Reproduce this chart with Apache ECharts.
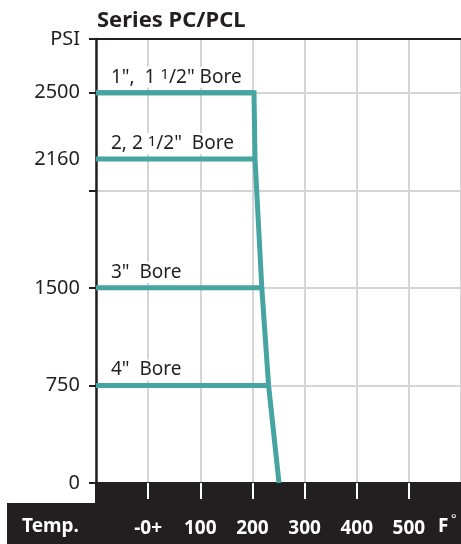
<!DOCTYPE html>
<html>
<head>
<meta charset="utf-8">
<script src="https://cdn.jsdelivr.net/npm/echarts@6/dist/echarts.min.js"></script>
<style>
  html, body { margin: 0; padding: 0; background: #fff; }
  #chart { width: 461px; height: 544px; }
</style>
</head>
<body>
<div id="chart"></div>
<script>
// bore ratings (psi) and the temperature where each flat line meets the derating curve
const boreLabels = ['1",  1 {s|1}/2" Bore', '2, 2 {s|1}/2"  Bore', '3"  Bore', '4"  Bore']
const borePsi = [2500, 2160, 1500, 750]
const boreTemp = [203, 205, 218, 231]

// derating curve
const curvePsi = [2500, 2160, 1500, 750, 0]
const curveTemp = [203, 205, 218, 231, 251]

// psi axis labels and ticks (axis is not linear: 0-1500 in 750 steps, then 500 steps)
const psiLabels = [0, 750, 1500, 2160, 2500]
const psiTicks = [0, 750, 1500, 2000, 2500]
const psiBreaks = [0, 1500, 2500]
const psiBreakUnits = [0, 2, 4]
const psiTop = 2775

// temperature axis (F)
const tempTicks = [0, 100, 200, 300, 400, 500]

const teal = '#46a4a1'
const dark = '#231f20'
const grid = '#d5d5d7'
const font = '"Noto Sans", "Open Sans", sans-serif'

function psiToUnit(p) {
  for (let i = 1; i < psiBreaks.length; i++) {
    if (p <= psiBreaks[i] || i === psiBreaks.length - 1) {
      const a = psiBreaks[i - 1], b = psiBreaks[i]
      const ua = psiBreakUnits[i - 1], ub = psiBreakUnits[i]
      return ua + (p - a) / (b - a) * (ub - ua)
    }
  }
}

const yMax = psiToUnit(psiTop)
const labelUnits = psiLabels.map(psiToUnit).concat([yMax])
const tickUnits = psiTicks.map(psiToUnit).concat([yMax])

function unitLabel(v) {
  if (Math.abs(v - yMax) < 0.01) return 'PSI'
  for (let i = 0; i < psiLabels.length; i++) {
    if (Math.abs(psiToUnit(psiLabels[i]) - v) < 0.01) return String(psiLabels[i])
  }
  return ''
}

const chart = echarts.init(document.getElementById('chart'))

const series = []

// curve, starting with the top flat segment so the corner joins cleanly
const topLine = [[-100, psiToUnit(borePsi[0])]].concat(curvePsi.map((p, i) => [curveTemp[i], psiToUnit(p)]))
series.push({
  type: 'line',
  data: topLine,
  symbol: 'none',
  clip: false,
  lineStyle: { color: teal, width: 5, join: 'miter' },
  z: 3
})

borePsi.forEach((p, i) => {
  const u = psiToUnit(p)
  series.push({
    type: 'line',
    data: [
      {
        value: [-100, u],
        label: {
          show: true,
          position: 'top',
          align: 'left',
          offset: [12, 0],
          formatter: boreLabels[i],
          color: dark,
          fontFamily: font,
          fontSize: 19,
          backgroundColor: '#fff',
          padding: [1, 3, 1, 3],
          rich: {
            s: { fontSize: 15, fontFamily: font, color: dark, verticalAlign: 'top', padding: [0, 0, 3, 0] }
          }
        }
      },
      { value: [boreTemp[i], u] }
    ],
    symbol: 'circle',
    symbolSize: 0,
    clip: false,
    lineStyle: { color: teal, width: 5 },
    z: 3
  })
})

const option = {
  animation: false,
  title: {
    text: 'Series PC/PCL',
    left: 92,
    top: 5,
    textStyle: { fontFamily: font, fontWeight: 'bold', fontSize: 22, color: dark }
  },
  grid: { left: 96, right: -3, top: 39, bottom: 61 },
  xAxis: [
    {
      // temperature labels and white ticks inside the black band
      type: 'value',
      min: -100,
      max: 600,
      interval: 100,
      z: 5,
      axisLine: { show: false },
      axisTick: { show: true, customValues: tempTicks, length: 16, lineStyle: { color: '#fff', width: 2 } },
      axisLabel: {
        customValues: tempTicks,
        formatter: v => (v === 0 ? '-0+' : String(v)),
        color: '#fff',
        fontFamily: font,
        fontWeight: 'bold',
        fontSize: 19,
        margin: 36
      },
      splitLine: { show: false }
    },
    {
      // grid lines and the dark top border
      type: 'value',
      position: 'top',
      min: -100,
      max: 600,
      interval: 100,
      axisLine: { show: true, onZero: false, lineStyle: { color: dark, width: 2 } },
      axisTick: { show: false },
      axisLabel: { show: false },
      splitLine: { show: true, lineStyle: { color: grid, width: 2 } }
    }
  ],
  yAxis: {
    type: 'value',
    min: 0,
    max: yMax,
    interval: 1,
    axisLine: { show: true, onZero: false, lineStyle: { color: dark, width: 2.5 } },
    axisTick: { show: true, customValues: tickUnits, length: 7, lineStyle: { color: dark, width: 2 } },
    axisLabel: {
      customValues: labelUnits,
      formatter: unitLabel,
      color: dark,
      fontFamily: font,
      fontSize: 20,
      margin: 16
    },
    splitLine: { show: true, lineStyle: { color: grid, width: 2 } }
  },
  graphic: [
    { type: 'rect', shape: { x: 95, y: 482, width: 366, height: 22 }, style: { fill: dark }, z: 1 },
    { type: 'rect', shape: { x: 7, y: 503, width: 454, height: 41 }, style: { fill: dark }, z: 1 },
    {
      type: 'text', left: 22, top: 517, z: 6,
      style: { text: 'Temp.', fill: '#fff', font: 'bold 19px ' + font }
    },
    {
      type: 'text', left: 438, top: 517, z: 6,
      style: { text: 'F', fill: '#fff', font: 'bold 19px ' + font }
    },
    {
      type: 'text', left: 451, top: 513, z: 6,
      style: { text: '\u00b0', fill: '#fff', font: '13px ' + font }
    }
  ],
  series: series
}

chart.setOption(option)
</script>
</body>
</html>
